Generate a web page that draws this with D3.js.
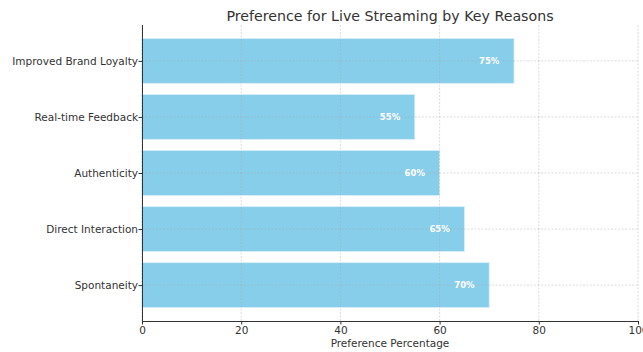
<!DOCTYPE html>
<html>
<head>
<meta charset="utf-8">
<script src="https://cdn.jsdelivr.net/npm/d3@7"></script>
<style>
  html, body { margin: 0; padding: 0; background: #fff; }
  svg { display: block; font-family: "DejaVu Sans", sans-serif; }
</style>
</head>
<body>
<svg id="chart" width="643" height="352"></svg>
<script>
// Reasons viewers prefer live streaming, top to bottom
const reasons = ["Improved Brand Loyalty", "Real-time Feedback", "Authenticity", "Direct Interaction", "Spontaneity"];
const percentages = [75, 55, 60, 65, 70];
const xTicks = [0, 20, 40, 60, 80, 100];

const svg = d3.select("#chart");
const plotLeft = 142, plotRight = 638, plotTop = 25, plotBottom = 321;
const labelSize = 10.5;

const x = d3.scaleLinear().domain([0, 100]).range([plotLeft, plotRight]);
// index-based y scale with the same padding as a 0.8-height bar layout
const y = d3.scaleLinear().domain([-0.64, reasons.length - 1 + 0.64]).range([plotTop, plotBottom]);
const barH = y(0.4) - y(-0.4);

// bars
svg.append("g").selectAll("rect")
  .data(reasons)
  .join("rect")
  .attr("x", x(0))
  .attr("y", (d, i) => y(i) - barH / 2)
  .attr("width", (d, i) => x(percentages[i]) - x(0))
  .attr("height", barH)
  .attr("fill", "#87CEEB")
  .attr("stroke", "#d8eef8")
  .attr("stroke-width", 0.8);

// dashed grid
const grid = svg.append("g").attr("stroke", "#a8a8a8").attr("stroke-opacity", 0.5)
  .attr("stroke-dasharray", "2,1.5").attr("stroke-width", 0.8);
grid.selectAll("line.v").data(xTicks).join("line").attr("class", "v")
  .attr("x1", d => x(d)).attr("x2", d => x(d)).attr("y1", plotTop).attr("y2", plotBottom);
grid.selectAll("line.h").data(reasons).join("line").attr("class", "h")
  .attr("x1", plotLeft).attr("x2", plotRight).attr("y1", (d, i) => y(i)).attr("y2", (d, i) => y(i));

// value labels inside bars
svg.append("g").selectAll("text")
  .data(reasons)
  .join("text")
  .attr("x", (d, i) => x(percentages[i] - 5))
  .attr("y", (d, i) => y(i))
  .attr("dy", "0.35em")
  .attr("text-anchor", "middle")
  .attr("fill", "#fff")
  .attr("font-weight", "bold")
  .attr("font-size", 8.5)
  .text((d, i) => percentages[i] + "%");

// axes
const xAxis = svg.append("g").attr("transform", `translate(0,${plotBottom})`)
  .call(d3.axisBottom(x).tickValues(xTicks).tickSize(3.5).tickPadding(2));
xAxis.select(".domain").attr("stroke", "#333").attr("d", `M${plotLeft},0.5H${plotRight}`);
xAxis.selectAll("text").attr("font-size", labelSize).attr("fill", "#333").attr("font-family", "DejaVu Sans");
xAxis.selectAll(".tick line").attr("stroke", "#333");

const yAxis = svg.append("g").attr("transform", `translate(${plotLeft},0)`)
  .call(d3.axisLeft(y).tickValues(d3.range(reasons.length)).tickFormat(i => reasons[i]).tickSize(3.5).tickPadding(0.5));
yAxis.select(".domain").attr("stroke", "#333").attr("d", `M0.5,${plotTop}V${plotBottom}`);
yAxis.selectAll("text").attr("font-size", labelSize).attr("fill", "#333").attr("font-family", "DejaVu Sans");
yAxis.selectAll(".tick line").attr("stroke", "#333");

// title and axis label
svg.append("text").attr("x", (plotLeft + plotRight) / 2).attr("y", 21)
  .attr("text-anchor", "middle").attr("font-size", 14.2).attr("fill", "#333")
  .text("Preference for Live Streaming by Key Reasons");
svg.append("text").attr("x", (plotLeft + plotRight) / 2).attr("y", 347)
  .attr("text-anchor", "middle").attr("font-size", labelSize).attr("fill", "#333")
  .text("Preference Percentage");
</script>
</body>
</html>
